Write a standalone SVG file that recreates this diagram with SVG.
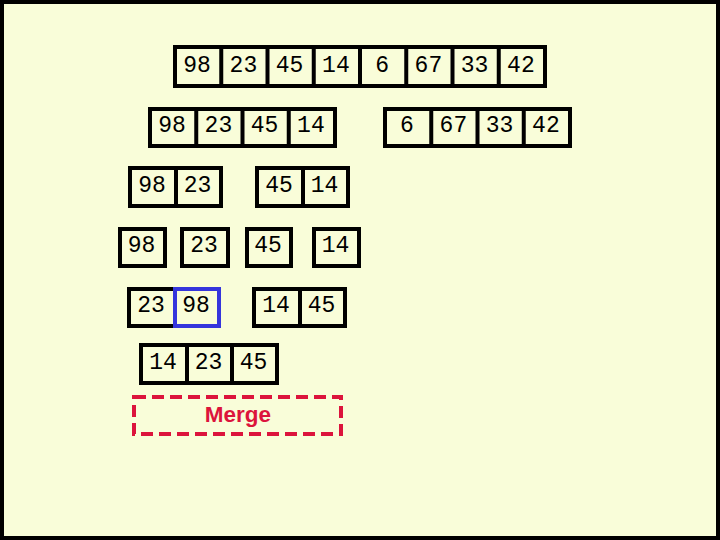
<svg xmlns="http://www.w3.org/2000/svg" width="720" height="540" viewBox="0 0 720 540">
<style>
.c{fill:none;stroke:#000;stroke-width:4}
.b{fill:none;stroke:#3535dc;stroke-width:4}
.t{font-family:"Liberation Mono","Courier New",monospace;font-size:23px;fill:#000;text-anchor:middle}
.m{fill:none;stroke:#dc143c;stroke-width:4;stroke-dasharray:12 6}
.mt{font-family:"Liberation Sans",Arial,sans-serif;font-size:22.5px;font-weight:bold;fill:#dc143c;text-anchor:middle}
</style>
<rect x="2" y="2" width="716" height="536" fill="#f9fdd9" stroke="#000" stroke-width="4"/>
<g id="row1">
<rect class="c" x="175" y="47" width="370" height="39"/>
<path class="c" d="M221.25 47V86M267.5 47V86M313.75 47V86M360 47V86M406.25 47V86M452.5 47V86M498.75 47V86"/>
<text class="t" x="197" y="72">98</text><text class="t" x="243.4" y="72">23</text><text class="t" x="289.6" y="72">45</text><text class="t" x="335.9" y="72">14</text><text class="t" x="382.1" y="72">6</text><text class="t" x="428.4" y="72">67</text><text class="t" x="474.6" y="72">33</text><text class="t" x="520.9" y="72">42</text>
</g>
<g id="row2-left">
<rect class="c" x="150" y="109" width="185" height="37"/>
<path class="c" d="M196.25 109V146M242.5 109V146M288.75 109V146"/>
<text class="t" x="172" y="132">98</text><text class="t" x="218.4" y="132">23</text><text class="t" x="264.6" y="132">45</text><text class="t" x="310.9" y="132">14</text>
</g>
<g id="row2-right">
<rect class="c" x="385" y="109" width="185" height="37"/>
<path class="c" d="M431.25 109V146M477.5 109V146M523.75 109V146"/>
<text class="t" x="407" y="132">6</text><text class="t" x="453.4" y="132">67</text><text class="t" x="499.6" y="132">33</text><text class="t" x="545.9" y="132">42</text>
</g>
<g id="row3-left">
<rect class="c" x="130" y="168" width="91" height="38"/>
<path class="c" d="M176 168V206"/>
<text class="t" x="152" y="192">98</text><text class="t" x="197.5" y="192">23</text>
</g>
<g id="row3-right">
<rect class="c" x="257" y="168" width="91" height="38"/>
<path class="c" d="M303 168V206"/>
<text class="t" x="279" y="192">45</text><text class="t" x="324.5" y="192">14</text>
</g>
<g id="row4">
<rect class="c" x="120" y="229" width="45" height="37"/><text class="t" x="141.5" y="252">98</text>
<rect class="c" x="182" y="229" width="46" height="37"/><text class="t" x="204" y="252">23</text>
<rect class="c" x="247" y="229" width="44" height="37"/><text class="t" x="268" y="252">45</text>
<rect class="c" x="314" y="229" width="45" height="37"/><text class="t" x="335.5" y="252">14</text>
</g>
<g id="row5-left">
<rect class="c" x="129" y="289" width="46" height="37"/>
<rect class="b" x="175" y="289" width="44" height="37"/>
<text class="t" x="151" y="312">23</text><text class="t" x="196" y="312">98</text>
</g>
<g id="row5-right">
<rect class="c" x="254" y="289" width="91" height="37"/>
<path class="c" d="M300 289V326"/>
<text class="t" x="276" y="312">14</text><text class="t" x="321.5" y="312">45</text>
</g>
<g id="row6">
<rect class="c" x="141" y="345" width="136" height="38"/>
<path class="c" d="M187 345V383M232 345V383"/>
<text class="t" x="163" y="369">14</text><text class="t" x="208.5" y="369">23</text><text class="t" x="253.5" y="369">45</text>
</g>
<g id="merge">
<rect class="m" x="134" y="397" width="207" height="37"/>
<text class="mt" x="238" y="422">Merge</text>
</g>
<g id="connectors"></g>
</svg>
